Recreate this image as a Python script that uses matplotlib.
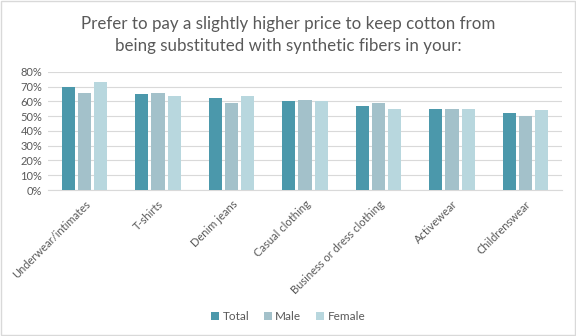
import matplotlib
matplotlib.use("Agg")
import matplotlib.pyplot as plt
import numpy as np

plt.rcParams['font.family'] = ['Lato', 'DejaVu Sans']

categories = ["Underwear/intimates", "T-shirts", "Denim jeans", "Casual clothing",
              "Business or dress clothing", "Activewear", "Childrenswear"]
total = [70, 65, 62, 60, 57, 55, 52]
male = [66, 66, 59, 61, 59, 55, 50]
female = [73, 64, 64, 60, 55, 55, 54]

series_names = ["Total", "Male", "Female"]
colors = ["#4B98AB", "#A3C1CA", "#B8D7DE"]
text_col = "#595959"

fig = plt.figure(figsize=(5.76, 3.36), dpi=100)
ax = fig.add_axes([0.083, 0.4345, 0.893, 0.3515])

x = np.arange(len(categories))
width = 0.18
offsets = [-0.22, 0.0, 0.22]
for vals, off, col, name in zip([total, male, female], offsets, colors, series_names):
    ax.bar(x + off, np.array(vals) / 100, width, color=col, label=name, zorder=3)

ax.set_ylim(0, 0.8)
ax.set_xlim(-0.5, len(categories) - 0.5)
ax.set_yticks(np.arange(0, 0.81, 0.1))
ax.set_yticklabels([f"{int(v)}%" for v in np.arange(0, 81, 10)])
ax.set_xticks(x)
ax.set_xticklabels(categories, rotation=45, ha='right', rotation_mode='anchor')
ax.tick_params(axis='both', length=0, labelsize=8, colors=text_col)
ax.tick_params(axis='x', pad=6)
ax.tick_params(axis='y', pad=4)
ax.grid(axis='y', color='#D9D9D9', linewidth=0.8, zorder=0)
for s in ['top', 'right', 'left']:
    ax.spines[s].set_visible(False)
ax.spines['bottom'].set_color('#D9D9D9')

fig.text(0.5, 0.897, "Prefer to pay a slightly higher price to keep cotton from\n"
         "being substituted with synthetic fibers in your:",
         ha='center', va='center', fontsize=12.2, color=text_col, linespacing=1.45)

fig.legend(loc='center', bbox_to_anchor=(0.5, 0.058), ncol=3, frameon=False,
           fontsize=8.5, handlelength=0.7, handleheight=0.7, handletextpad=0.3,
           columnspacing=1.2, labelcolor=text_col)

fig.patches.append(plt.Rectangle((0.002, 0.003), 0.996, 0.994, transform=fig.transFigure,
                                 fill=False, edgecolor='#D9D9D9', linewidth=1))

fig.savefig("out.png", dpi=100)
